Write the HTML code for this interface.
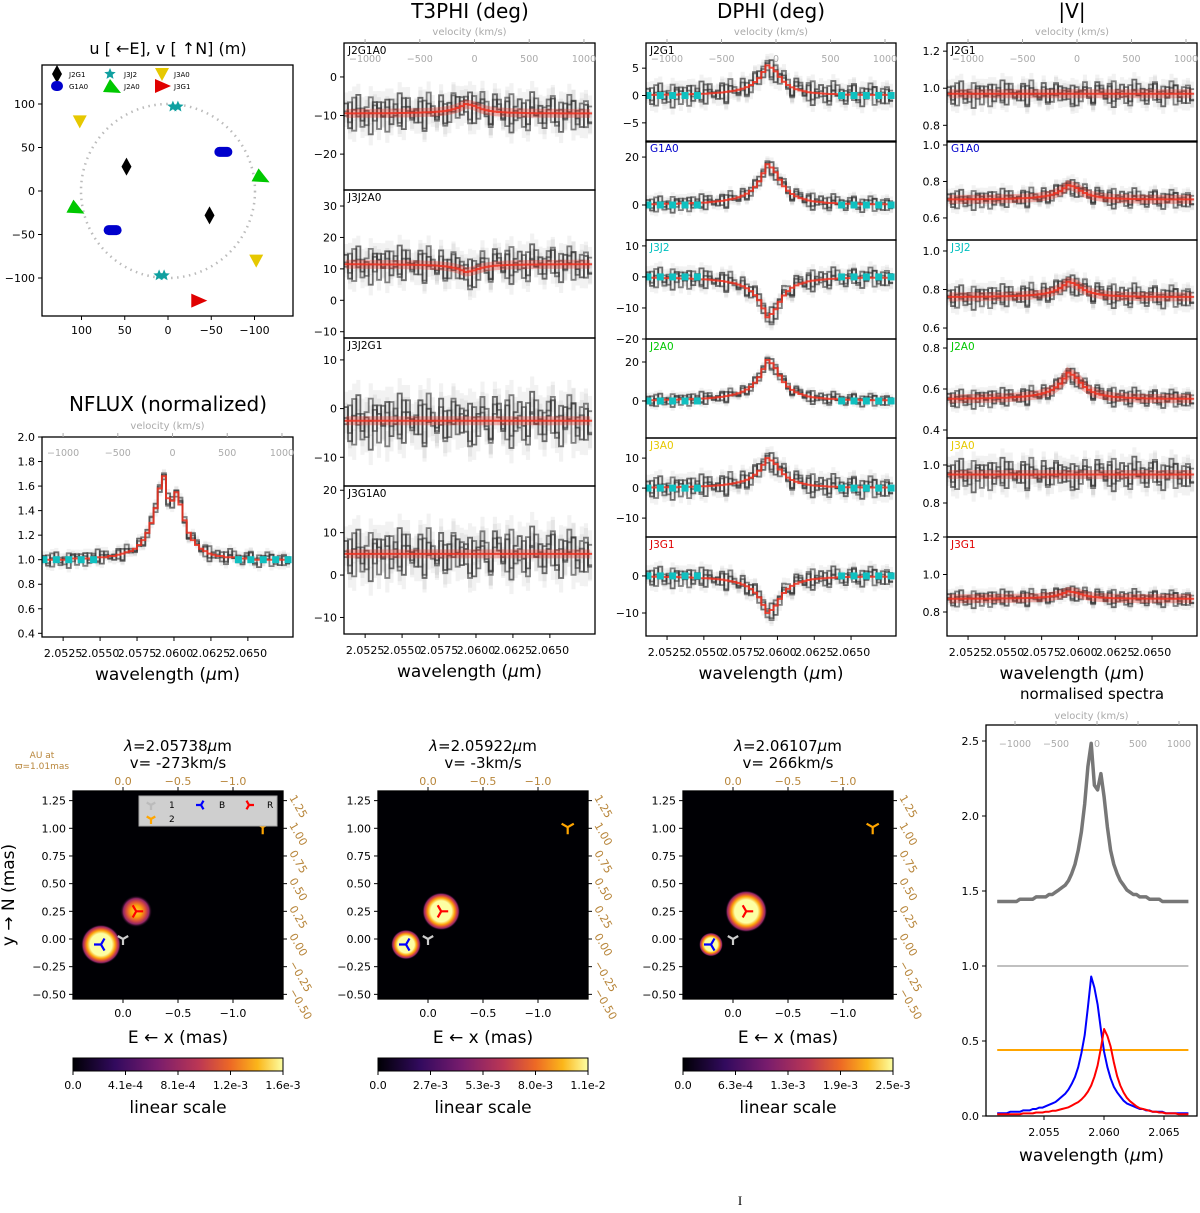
<!DOCTYPE html>
<html><head><meta charset="utf-8"><style>
html,body{margin:0;padding:0;background:#fff}
svg{display:block;font-family:"DejaVu Sans","Liberation Sans",sans-serif}
</style></head><body>
<svg id="fig" width="1200" height="1213" viewBox="0 0 1200 1213" xmlns="http://www.w3.org/2000/svg">
<defs>
<radialGradient id="blobHot"><stop offset="0" stop-color="#fcffa4"/><stop offset="0.55" stop-color="#fcffa4"/><stop offset="0.7" stop-color="#fca50a"/><stop offset="0.8" stop-color="#dd513a"/><stop offset="0.9" stop-color="#932667"/><stop offset="1" stop-color="#000004" stop-opacity="0"/></radialGradient>
<radialGradient id="blobWarm"><stop offset="0" stop-color="#fcd240"/><stop offset="0.35" stop-color="#fca50a"/><stop offset="0.6" stop-color="#dd513a"/><stop offset="0.8" stop-color="#932667"/><stop offset="1" stop-color="#000004" stop-opacity="0"/></radialGradient>
<linearGradient id="inferno"><stop offset="0" stop-color="#000004"/><stop offset="0.2" stop-color="#320a5e"/><stop offset="0.4" stop-color="#781c6d"/><stop offset="0.6" stop-color="#bc3754"/><stop offset="0.75" stop-color="#ed6925"/><stop offset="0.88" stop-color="#fbb61a"/><stop offset="1" stop-color="#fcffa4"/></linearGradient>
</defs>
</svg>
<script>
// ---------- data ----------
const WL0=2.0512, DW=0.00028, NB=60;
const profile=[.02,.02,.02,.02,.03,.03,.03,.03,.04,.04,.04,.05,.05,.06,.06,.07,.08,.09,.10,.12,.14,.16,.19,.23,.28,.35,.45,.58,.78,1.0,.92,.80,.62,.46,.35,.27,.21,.17,.14,.11,.09,.08,.07,.06,.05,.05,.04,.04,.03,.03,.03,.03,.02,.02,.02,.02,.02,.02,.02,.02];
const fluxModel=[1.0,1.0,1.0,1.0,1.0,1.0,1.0,1.01,1.01,1.01,1.01,1.01,1.02,1.02,1.02,1.02,1.03,1.03,1.04,1.05,1.06,1.07,1.09,1.12,1.16,1.22,1.3,1.42,1.58,1.68,1.5,1.48,1.55,1.45,1.32,1.22,1.16,1.12,1.09,1.07,1.05,1.04,1.03,1.03,1.02,1.02,1.02,1.01,1.01,1.01,1.01,1.0,1.0,1.0,1.0,1.0,1.0,1.0,1.0,1.0];
const noiseA=[0.8,-1.2,0.3,1.5,-0.6,0.2,-1.7,0.9,0.4,-0.3,1.1,-0.9,-0.2,1.6,-1.3,0.5,0.1,-0.8,1.2,-1.5,0.7,0.0,-0.4,1.3,-1.0,0.6,-0.2,0.9,-0.7,0.3,1.0,-1.4,0.4,0.8,-0.5,-1.1,1.4,0.2,-0.6,0.9,-1.6,0.5,1.1,-0.3,-0.9,1.7,-0.2,0.6,-1.2,0.3,1.2,-0.7,-1.5,0.8,0.1,1.0,-0.4,-1.1,0.7,-0.8];
const noiseB=[-0.5,0.9,1.3,-1.1,0.4,-1.4,0.7,0.2,-0.9,1.6,-0.3,0.5,-1.2,0.0,0.8,-1.6,1.1,0.6,-0.4,0.9,-1.3,1.5,0.2,-0.7,0.4,-1.0,1.2,-0.1,0.6,-0.9,-0.3,0.7,-1.2,1.4,0.1,0.9,-0.8,-1.5,1.0,0.3,0.6,-0.4,-1.3,1.2,0.8,-0.6,1.5,-1.1,0.2,-0.5,-1.4,1.3,0.5,-0.2,-1.0,0.6,1.4,-0.9,0.3,1.1];
const noiseC=[1.2,0.1,-0.8,0.6,1.4,-1.0,0.3,-0.5,1.5,-1.3,0.2,0.8,1.0,-0.7,-0.2,0.9,-1.4,0.4,-1.1,0.5,1.3,-0.6,0.9,-0.2,-1.5,1.1,0.3,-0.8,0.5,1.2,-0.4,0.2,0.9,-1.3,1.6,-0.3,-0.6,0.8,-1.2,-0.1,1.3,-0.8,0.4,0.6,-1.5,0.2,-0.9,1.4,0.7,-1.3,0.4,1.0,-0.2,-1.1,1.5,-0.6,0.3,0.8,-1.4,0.5];
const contIdx=[0,3,6,9,12,47,50,53,56,59];
const t3Names=["J2G1A0","J3J2A0","J3J2G1","J3G1A0"];
const t3Base=[-9.5,11.5,-2.5,5];
const t3Amp=[2.5,-2.5,0,0];
const t3Sig=[3.2,3.8,3.5,3.8];
const t3Ticks=[[0,-10,-20],[30,20,10,0,-10],[10,0,-10],[20,10,0,-10]];
const t3Range=[[-29.3,8.8],[-12,35.1],[-15.9,14.5],[-13.9,21]];
const blNames=["J2G1","G1A0","J3J2","J2A0","J3A0","J3G1"];
const blColors=["#000","#0000cc","#00bfbf","#00c800","#e6c800","#e00000"];
const dphiAmp=[5.5,17,-13,21,10,-10];
const dphiSig=[1.4,2.2,2.2,2.2,2.5,1.8];
const dphiTicks=[[5,0,-5],[20,0],[10,0,-10,-20],[20,0],[10,0,-10],[0,-10]];
const dphiRange=[[-8.5,9.6],[-14.6,26.7],[-20,11.9],[-19,31.8],[-16.3,16.7],[-16.2,10.5]];
const visBase=[0.97,0.70,0.76,0.55,0.95,0.87];
const visAmp=[0,0.08,0.08,0.13,0,0.04];
const visSig=[0.045,0.035,0.04,0.03,0.055,0.03];
const visTicks=[[1.2,1.0,0.8],[1.0,0.8,0.6],[1.0,0.8,0.6],[0.8,0.6,0.4],[1.0,0.8],[1.2,1.0,0.8]];
const visRange=[[0.71,1.244],[0.479,1.022],[0.543,1.057],[0.361,0.844],[0.621,1.142],[0.672,1.2]];
const wlTicks=[2.0525,2.0550,2.0575,2.0600,2.0625,2.0650];
const velTicks=[-1000,-500,0,500,1000];
const uvU=[48,-64,-8,-107,102,-35];
const uvV=[28,45,97,18,80,-126];
const imgWl=["2.05738","2.05922","2.06107"];
const imgVel=["-273","-3","266"];
const imgBsize=[20,15,12];
const imgRsize=[16,19,21];
const cbLabels=[["0.0","4.1e-4","8.1e-4","1.2e-3","1.6e-3"],["0.0","2.7e-3","5.3e-3","8.0e-3","1.1e-2"],["0.0","6.3e-4","1.3e-3","1.9e-3","2.5e-3"]];
const specTicksY=[0,0.5,1.0,1.5,2.0,2.5];
const specTicksX=[2.055,2.060,2.065];

// ---------- helpers ----------
const NS="http://www.w3.org/2000/svg";
const svg=document.getElementById("fig");
function el(tag,attrs,parent,txt){const e=document.createElementNS(NS,tag);for(const k in attrs)e.setAttribute(k,attrs[k]);if(txt!==undefined)e.textContent=txt;(parent||svg).appendChild(e);return e;}
let clipN=0;
function fmt(v){return (v<0?"\u2212":"")+Math.abs(v);}
function wlAxis(x0,w){return wl=>x0+(wl-2.05107)*14720*(w/250);}
function yAxis(y0,h,r){return v=>y0+h-(v-r[0])/(r[1]-r[0])*h;}
function stepPath(X,Y,vals){let d="";for(let i=0;i<vals.length;i++){const xa=X(WL0+i*DW-DW/2),xb=X(WL0+i*DW+DW/2),y=Y(vals[i]);d+=(i?"L":"M")+xa.toFixed(1)+","+y.toFixed(1)+"L"+xb.toFixed(1)+","+y.toFixed(1);}return d;}
function linePath(X,Y,vals){let d="";for(let i=0;i<vals.length;i++){d+=(i?"L":"M")+X(WL0+i*DW).toFixed(1)+","+Y(vals[i]).toFixed(1);}return d;}

function spectrumPanel(g,x0,y0,w,h,r,ticks,model,sig,label,labColor,opts){
  const X=wlAxis(x0,w),Y=yAxis(y0,h,r);
  const id="c"+(clipN++);
  const cp=el("clipPath",{id:id},g);el("rect",{x:x0,y:y0,width:w,height:h},cp);
  const inner=el("g",{"clip-path":"url(#"+id+")"},g);
  const series=[noiseA,noiseB,noiseC].map((n,k)=>model.map((m,i)=>m+sig*n[(i+k*7)%NB]*(k==1?0.8:1)));
  series.forEach(s=>{s.forEach((v,i)=>{const r1=el("rect",{x:X(WL0+i*DW-DW/2),y:Y(v+sig*0.9),width:X(WL0+DW)-X(WL0),height:Math.abs(Y(v-sig*0.9)-Y(v+sig*0.9)),fill:"#000","fill-opacity":"0.05"},inner);
    
    });});
  series.forEach((s,k)=>{const p=el("path",{d:stepPath(X,Y,s),fill:"none",stroke:k==0?"#111":"#333","stroke-width":"1.8","stroke-opacity":"0.6"},inner);
    
    });
  if(opts.band){const b=el("path",{d:linePath(X,Y,model),fill:"none",stroke:"#e8372a","stroke-width":"9","stroke-opacity":"0.35"},inner);}
  const m=el("path",{d:stepPath(X,Y,model),fill:"none",stroke:"#f03020","stroke-width":"2","stroke-opacity":"0.85"},inner);
  
  
  if(opts.cont){contIdx.forEach(i=>{const c=el("rect",{x:X(WL0+i*DW)-3.5,y:Y(opts.cont)-3.5,width:7,height:7,fill:"#10c0c0"},inner);});}
  el("rect",{x:x0,y:y0,width:w,height:h,fill:"none",stroke:"#000","stroke-width":"1.3"},g);
  ticks.forEach(t=>{const y=Y(t);el("line",{x1:x0-4,x2:x0,y1:y,y2:y,stroke:"#000"},g);
    const tl=el("text",{x:x0-7,y:y+4,"text-anchor":"end","font-size":"11"},g,opts.dec?t.toFixed(1):fmt(t));});
  if(label){const l=el("text",{x:x0+4,y:y0+11,"font-size":"10.5",fill:labColor},g,label);}
  if(opts.vel){const vx=v=>x0+130*(w/250)+v*0.109*(w/250);
    el("text",{x:x0+w/2,y:y0-8,"text-anchor":"middle","font-size":"10",fill:"#aaa"},g,"velocity (km/s)");
    velTicks.forEach(v=>{el("line",{x1:vx(v),x2:vx(v),y1:y0-4,y2:y0,stroke:"#aaa"},g);el("text",{x:vx(v),y:y0+19,"text-anchor":"middle","font-size":"9.5",fill:"#aaa"},g,fmt(v));});}
  if(opts.xlab){wlTicks.forEach(t=>{const x=X(t);el("line",{x1:x,x2:x,y1:y0+h,y2:y0+h+4,stroke:"#000"},g);el("text",{x:x,y:y0+h+20,"text-anchor":"middle","font-size":"11"},g,t.toFixed(4));});
    const xl=el("text",{x:x0+w/2,y:y0+h+43,"text-anchor":"middle","font-size":"17"},g);xl.innerHTML='wavelength (<tspan font-style="italic">μ</tspan>m)';}
}

// ---------- UV plot ----------
(function(){
  const g=el("g",{});
  const ux=u=>168-u*0.865, vy=v=>191-v*0.87;
  el("text",{x:168,y:54,"text-anchor":"middle","font-size":"16"},g,"u [ \u2190E], v [ \u2191N] (m)");
  el("circle",{cx:168,cy:191,r:87,fill:"none",stroke:"#bbb","stroke-width":"2.5","stroke-dasharray":"1.5 4.5"},g);
  const star=(x,y,R)=>{let d="";for(let i=0;i<10;i++){const a=i*Math.PI/5,rr=i%2?R*0.45:R;d+=(i?"L":"M")+(x+rr*Math.sin(a)).toFixed(1)+","+(y-rr*Math.cos(a)).toFixed(1);}return d+"Z";};
  const mk=(k,x,y,leg)=>{const c=blColors[k];let s;
    if(k==0)s=el("path",{d:`M${x},${y-9}L${x+5},${y}L${x},${y+9}L${x-5},${y}Z`,fill:c},g);
    else if(k==1)s=el("rect",{x:x-(leg?6:9),y:y-5,width:leg?12:18,height:10,rx:5,fill:c},g);
    else if(k==2){s=el("path",{d:star(x-2,y,6),fill:"#10a0a0"},g);if(!leg){el("path",{d:star(x+3,y,6),fill:"#10a0a0"},g);}}
    else if(k==3)s=el("path",{d:`M${x-9},${y+6}L${x-2},${y-7}L${x+9},${y+7}Z`,fill:c},g);
    else if(k==4)s=el("path",{d:`M${x-7},${y-6}L${x+7},${y-6}L${x},${y+7}Z`,fill:c},g);
    else s=el("path",{d:`M${x-7},${y-7}L${x+9},${y}L${x-7},${y+7}Z`,fill:c},g);
    
    };
  uvU.forEach((u,k)=>{mk(k,ux(u),vy(uvV[k]));if(k!=5)mk(k,ux(-u),vy(-uvV[k]));});
  el("rect",{x:42,y:65,width:251,height:251,fill:"none",stroke:"#000","stroke-width":"1.3"},g);
  [100,50,0,-50,-100].forEach(t=>{el("line",{x1:ux(t),x2:ux(t),y1:316,y2:320,stroke:"#000"},g);el("text",{x:ux(t),y:334,"text-anchor":"middle","font-size":"11"},g,fmt(t));
    el("line",{x1:38,x2:42,y1:vy(t),y2:vy(t),stroke:"#000"},g);el("text",{x:35,y:vy(t)+4,"text-anchor":"end","font-size":"11"},g,fmt(t));});
  const lg=[[57,74],[57,86],[112,74],[112,86],[162,74],[162,86]];
  blNames.forEach((n,k)=>{mk(k,lg[k][0],lg[k][1],true);el("text",{x:lg[k][0]+12,y:lg[k][1]+3,"font-size":"7"},g,n);});
})();

// ---------- NFLUX ----------
(function(){
  const g=el("g",{});
  el("text",{x:168,y:411,"text-anchor":"middle","font-size":"20"},g,"NFLUX (normalized)");
  spectrumPanel(g,42,437,251,200,[0.37,2.0],[2.0,1.8,1.6,1.4,1.2,1.0,0.8,0.6,0.4],fluxModel,0.04,"","#000",{cont:1.0,vel:true,xlab:true,dec:true});
})();

// ---------- T3PHI ----------
(function(){
  const g=el("g",{});
  el("text",{x:470,y:18,"text-anchor":"middle","font-size":"20"},g,"T3PHI (deg)");
  const ys=[43,190,338,486];
  t3Names.forEach((n,k)=>{const model=profile.map(p=>t3Base[k]+t3Amp[k]*p);
    spectrumPanel(g,344,ys[k],251,ys[k+1]?ys[k+1]-ys[k]:148,t3Range[k],t3Ticks[k],model,t3Sig[k],n,"#000",{band:true,vel:k==0,xlab:k==3});});
})();

// ---------- DPHI & |V| ----------
(function(){
  const ys=[43,141,240,339,438,537];
  const g=el("g",{});
  el("text",{x:771,y:18,"text-anchor":"middle","font-size":"20"},g,"DPHI (deg)");
  blNames.forEach((n,k)=>{const model=profile.map(p=>dphiAmp[k]*p);
    spectrumPanel(g,646,ys[k],250,99,dphiRange[k],dphiTicks[k],model,dphiSig[k],n,blColors[k],{cont:0.0001,vel:k==0,xlab:k==5});});
  const g2=el("g",{});
  el("text",{x:1072,y:18,"text-anchor":"middle","font-size":"20"},g2,"|V|");
  blNames.forEach((n,k)=>{const model=profile.map(p=>visBase[k]+visAmp[k]*p);
    spectrumPanel(g2,947,ys[k],250,99,visRange[k],visTicks[k],model,visSig[k],n,blColors[k],{band:true,vel:k==0,xlab:k==5,dec:true});});
})();

// ---------- images ----------
function triMarker(g,x,y,color,rot,size){const s=size||7;const a=[0,120,240].map(d=>(d+rot)*Math.PI/180);
  let d="";a.forEach(t=>{d+=`M${x},${y}L${(x+s*Math.sin(t)).toFixed(1)},${(y-s*Math.cos(t)).toFixed(1)}`;});
  const p=el("path",{d:d,stroke:color,"stroke-width":"2.2",fill:"none"},g);return p;}
imgWl.forEach((w,k)=>{
  const g=el("g",{});
  const x0=73+k*305,y0=791,W=210,H=208;
  const X=m=>x0+50-m*110, Y=m=>y0+148-m*110.7;
  el("rect",{x:x0,y:y0,width:W,height:H,fill:"#000004"},g);
  const b=el("circle",{cx:X(0.2),cy:Y(-0.05),r:imgBsize[k],fill:"url(#blobHot)"},g);
  const r=el("circle",{cx:X(-0.12),cy:Y(0.25),r:imgRsize[k],fill:k==0?"url(#blobWarm)":"url(#blobHot)"},g);
  triMarker(g,X(0.2),Y(-0.05),"#0000ff",-90);
  triMarker(g,X(-0.12),Y(0.25),"#ff0000",90);
  triMarker(g,X(0),Y(0.0),"#ccc",180,6);
  triMarker(g,X(-1.27),Y(1.01),"#ffa500",180);
  el("rect",{x:x0,y:y0,width:W,height:H,fill:"none",stroke:"#000","stroke-width":"1.3"},g);
  if(k==0){el("rect",{x:x0+66,y:y0+5,width:138,height:30,fill:"#cfcfcf",stroke:"#aaa"},g);
    triMarker(g,x0+78,y0+14,"#bbb",180,5);el("text",{x:x0+96,y:y0+17,"font-size":"9"},g,"1");
    triMarker(g,x0+78,y0+28,"#ffa500",180,5);el("text",{x:x0+96,y:y0+31,"font-size":"9"},g,"2");
    triMarker(g,x0+128,y0+14,"#0000ff",-90,5);el("text",{x:x0+146,y:y0+17,"font-size":"9"},g,"B");
    triMarker(g,x0+176,y0+14,"#ff0000",90,5);el("text",{x:x0+194,y:y0+17,"font-size":"9"},g,"R");
    el("text",{x:42,y:758,"text-anchor":"middle","font-size":"9",fill:"#b8863b"},g,"AU at");
    el("text",{x:42,y:769,"text-anchor":"middle","font-size":"9",fill:"#b8863b"},g,"\u03d6=1.01mas");
    const yl=el("text",{x:0,y:0,"text-anchor":"middle","font-size":"17",transform:`translate(14,${y0+H/2}) rotate(-90)`},g,"y \u2192 N (mas)");}
  const t1=el("text",{x:x0+105,y:751,"text-anchor":"middle","font-size":"15"},g);t1.innerHTML='<tspan font-style="italic">λ</tspan>=2.'+w.slice(2)+'<tspan font-style="italic">μ</tspan>m';
  el("text",{x:x0+105,y:768,"text-anchor":"middle","font-size":"15"},g,"v= "+imgVel[k]+"km/s");
  [0,-0.5,-1.0].forEach(t=>{const x=X(t);const s=t==0?"0.0":t==-0.5?"\u22120.5":"\u22121.0";
    el("line",{x1:x,x2:x,y1:y0,y2:y0-4,stroke:"#000"},g);el("text",{x:x,y:y0-6,"text-anchor":"middle","font-size":"11",fill:"#b8863b"},g,s);
    el("line",{x1:x,x2:x,y1:y0+H,y2:y0+H+4,stroke:"#000"},g);el("text",{x:x,y:y0+H+18,"text-anchor":"middle","font-size":"11"},g,s);});
  [1.25,1.0,0.75,0.5,0.25,0,-0.25,-0.5].forEach(t=>{const y=Y(t);const s=(t<0?"\u2212":"")+Math.abs(t).toFixed(2);
    el("line",{x1:x0-4,x2:x0,y1:y,y2:y,stroke:"#000"},g);el("text",{x:x0-7,y:y+4,"text-anchor":"end","font-size":"11"},g,s);
    el("line",{x1:x0+W,x2:x0+W+4,y1:y,y2:y,stroke:"#000"},g);el("text",{x:0,y:0,"font-size":"11",fill:"#b8863b",transform:`translate(${x0+W+6},${y-3}) rotate(60)`},g,s);});
  const xl=el("text",{x:x0+105,y:1043,"text-anchor":"middle","font-size":"17"},g,"E \u2190 x (mas)");
  const cb=el("rect",{x:x0,y:1058,width:W,height:13,fill:"url(#inferno)",stroke:"#000"},g);
  cbLabels[k].forEach((l,i)=>{const x=x0+i*W/4;el("line",{x1:x,x2:x,y1:1071,y2:1075,stroke:"#000"},g);el("text",{x:x,y:1089,"text-anchor":"middle","font-size":"11"},g,l);});
  el("text",{x:x0+105,y:1113,"text-anchor":"middle","font-size":"17"},g,"linear scale");
});

// ---------- normalised spectra ----------
(function(){
  const g=el("g",{});
  const x0=986,y0=725,W=211,H=391;
  const X=wl=>1044+(wl-2.055)*12000, Y=v=>1116-v*150;
  el("text",{x:1092,y:699,"text-anchor":"middle","font-size":"15"},g,"normalised spectra");
  const xs=i=>2.0511+i*0.00027;
  const mk=(vals,col,wid,name)=>{let d="";vals.forEach((v,i)=>{d+=(i?"L":"M")+X(xs(i)).toFixed(1)+","+Y(v).toFixed(1);});const p=el("path",{d:d,fill:"none",stroke:col,"stroke-width":wid,"stroke-linejoin":"round"},g);};
  mk(fluxModel.map(f=>1.43+1.55*(f-1)),"#777",3.5,"total-spectrum-line");
  mk(fluxModel.map(()=>1.0),"#c0c0c0",2,"component-1-line");
  mk(fluxModel.map(()=>0.44),"#ffa500",2,"component-2-line");
  mk(profile.map(p=>0.93*p*0.6),"#0000ff",2,"blue-component-line");
  g.lastChild.remove();
  mk(profile.map(p=>0.93*p),"#0000ff",2,"blue-component-line");
  mk(profile.map((p,i)=>0.58*profile[Math.max(0,i-4)]),"#ff0000",2,"red-component-line");
  el("rect",{x:x0,y:y0,width:W,height:H,fill:"none",stroke:"#000","stroke-width":"1.3"},g);
  specTicksY.forEach(t=>{const y=Y(t);el("line",{x1:x0-4,x2:x0,y1:y,y2:y,stroke:"#000"},g);el("text",{x:x0-7,y:y+4,"text-anchor":"end","font-size":"11"},g,t.toFixed(1));});
  specTicksX.forEach(t=>{const x=X(t);el("line",{x1:x,x2:x,y1:y0+H,y2:y0+H+4,stroke:"#000"},g);el("text",{x:x,y:y0+H+20,"text-anchor":"middle","font-size":"11"},g,t.toFixed(3));});
  const xl=el("text",{x:x0+W/2,y:1161,"text-anchor":"middle","font-size":"17"},g);xl.innerHTML='wavelength (<tspan font-style="italic">μ</tspan>m)';
  el("text",{x:x0+W/2,y:719,"text-anchor":"middle","font-size":"10",fill:"#aaa"},g,"velocity (km/s)");
  velTicks.forEach(v=>{const x=1097+v*0.082;el("line",{x1:x,x2:x,y1:y0-4,y2:y0,stroke:"#aaa"},g);el("text",{x:x,y:y0+22,"text-anchor":"middle","font-size":"9.5",fill:"#aaa"},g,fmt(v));});
})();
el("text",{x:740,y:1205,"text-anchor":"middle","font-size":"13","font-family":"Liberation Serif, serif"},svg,"I");
</script>
</body></html>
